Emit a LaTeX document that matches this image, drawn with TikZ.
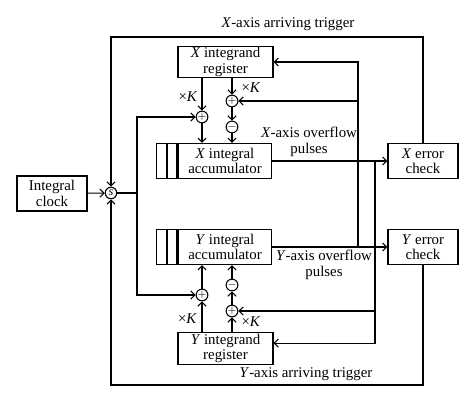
\documentclass[tikz,border=0pt]{standalone}
\usepackage{fontspec}
\setmainfont{Liberation Serif}
\usetikzlibrary{
  shapes,
  calc,
  arrows.meta,
  positioning
}

\tikzset{
  box/.style = {rectangle, draw, align=center, inner sep=0pt,
                font=\fontsize{11}{11.5}\selectfont},
  reg/.style = {box, minimum width=2.47cm, minimum height=0.81cm},
  acc/.style = {box, minimum width=2.44cm, minimum height=0.91cm},
  chk/.style = {box, minimum width=1.82cm, minimum height=0.91cm},
  cell/.style = {rectangle, draw, inner sep=0pt, minimum width=0.25cm, minimum height=0.91cm},
  sum/.style = {circle, draw, inner sep=0pt, minimum size=0.3cm, font=\footnotesize},
  lbl/.style = {align=center, inner sep=0pt, font=\fontsize{11}{11.5}\selectfont}
}

\begin{document}
\begin{tikzpicture}[x=0.026cm, y=-0.026cm, line width=0.8pt,
    >={Straight Barb[length=3pt,width=6pt]}]
    \useasboundingbox (0,0) rectangle (474,402);

    % blocks
    \node[box, minimum width=1.82cm, minimum height=0.91cm] (clock) at (52,193.5) {Integral\\clock};
    \node[sum, font=\small\itshape] (s) at (111,193) {s};

    \node[reg] (xreg) at (225.5,62) {\textit{X} integrand\\register};
    \node[acc] (xacc) at (225,161) {\textit{X} integral\\accumulator};
    \node[cell, left=0pt of xacc] (xc2) {};
    \node[cell, left=0pt of xc2] (xc1) {};
    \node[chk] (xerr) at (423,161) {\textit{X} error\\check};

    \node[reg] (yreg) at (225.5,348.5) {\textit{Y} integrand\\register};
    \node[acc] (yacc) at (225,247) {\textit{Y} integral\\accumulator};
    \node[cell, left=0pt of yacc] (yc2) {};
    \node[cell, left=0pt of yc2] (yc1) {};
    \node[chk] (yerr) at (423,247) {\textit{Y} error\\check};

    % adders
    \node[sum] (xadd) at (202,117) {$+$};
    \node[sum] (xinc) at (232,101) {$+$};
    \node[sum] (xdec) at (232,127) {$-$};
    \node[sum] (yadd) at (202,295) {$+$};
    \node[sum] (yinc) at (232,311) {$+$};
    \node[sum] (ydec) at (232,285) {$-$};

    % corners
    \coordinate (xtrig) at (111,37);
    \coordinate (ytrig) at (111,385);
    \coordinate (split) at (137,193);
    \coordinate (xo) at (375,161);
    \coordinate (yo) at (358,247);

    \draw[->] (clock) -- (s);
    \draw[->] (xerr.north) |- (xtrig) -- (s);
    \draw[->] (yerr.south) |- (ytrig) -- (s);
    \draw (s) -- (split);
    \draw[->] (split) |- (xadd);
    \draw[->] (split) |- (yadd);

    \draw[->] (xreg.south -| xadd) -- (xadd);
    \draw[->] (xadd) -- (xadd |- xacc.north);
    \draw[->] (xreg.south -| xinc) -- (xinc);
    \draw[->] (xinc) -- (xdec);
    \draw[->] (xdec) -- (xdec |- xacc.north);

    \draw[->] (yreg.north -| yadd) -- (yadd);
    \draw[->] (yadd) -- (yadd |- yacc.south);
    \draw[->] (yreg.north -| yinc) -- (yinc);
    \draw[->] (yinc) -- (ydec);
    \draw[->] (ydec) -- (ydec |- yacc.south);

    % overflow pulses
    \draw[->] (xacc) -- (xerr);
    \draw[->] (yacc) -- (yerr);
    \draw[->] (xo) |- ([yshift=4pt]yreg.east);
    \draw[->] (xo |- yinc) -- (yinc);
    \draw[->] (yo) |- (xreg);
    \draw[->] (yo |- xinc) -- (xinc);
    \fill (yo |- xo) circle (1.1pt);
    \fill (xo |- yo) circle (1.1pt);

    % labels
    \node[lbl] (xtl) at (288,24) {\textit{X}-axis arriving trigger};
    \node[lbl] (ytl) at (306,374) {\textit{Y}-axis arriving trigger};
    \node[lbl] (xol) at (309,142) {\textit{X}-axis overflow\\pulses};
    \node[lbl] (yol) at (324,265) {\textit{Y}-axis overflow\\pulses};
    \node[lbl] (xk1) at (188,97) {×\textit{K}};
    \node[lbl] (xk2) at (251,88) {×\textit{K}};
    \node[lbl] (yk1) at (187.5,319) {×\textit{K}};
    \node[lbl] (yk2) at (251,322) {×\textit{K}};
  \end{tikzpicture}
\end{document}
